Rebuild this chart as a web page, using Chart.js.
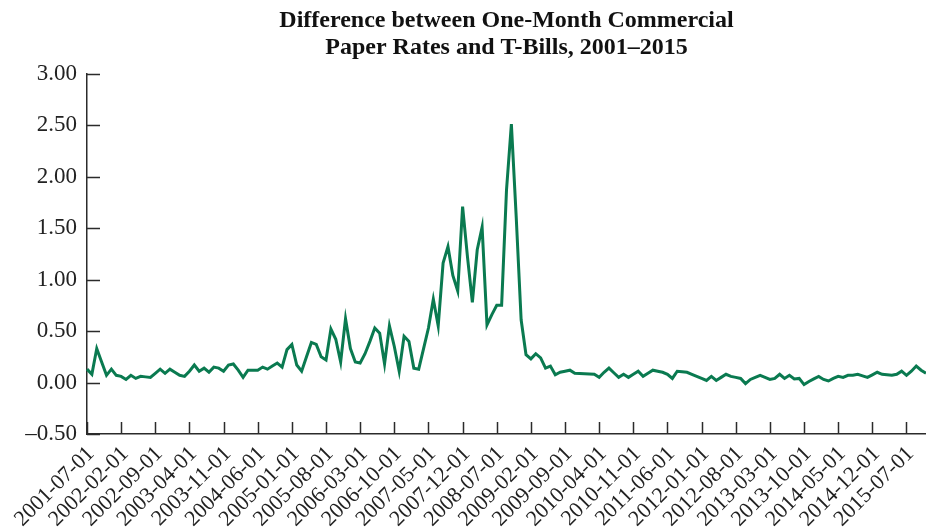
<!DOCTYPE html>
<html>
<head>
<meta charset="utf-8">
<script src="https://cdn.jsdelivr.net/npm/chart.js@4.4.1/dist/chart.umd.min.js"></script>
<style>
  html, body { margin: 0; padding: 0; background: #fff; }
  #wrap { width: 926px; height: 532px; position: relative; }
</style>
</head>
<body>
<div id="wrap"><canvas id="c"></canvas></div>
<script>
/* Spread between one-month commercial paper and T-bill rates, monthly 2001-07 .. 2015-11 */
const START_YEAR = 2001, START_MONTH = 7;
const LABEL_EVERY = 7;
const Y_TICKS = [-0.5, 0, 0.5, 1.0, 1.5, 2.0, 2.5, 3.0];

const SPREAD = [
  0.13, 0.08, 0.33, 0.20, 0.07, 0.13, 0.07, 0.06, 0.03, 0.07, 0.04, 0.06, 0.055, 0.05, 0.09, 0.13, 0.09, 0.13, 0.10, 0.07,
  0.06, 0.11, 0.17, 0.11, 0.14, 0.10, 0.15, 0.14, 0.11, 0.17, 0.18, 0.12, 0.05, 0.12, 0.12, 0.12, 0.15, 0.13, 0.16, 0.19,
  0.15, 0.32, 0.37, 0.17, 0.11, 0.25, 0.39, 0.37, 0.25, 0.22, 0.52, 0.42, 0.20, 0.62, 0.33, 0.20, 0.19, 0.28, 0.40, 0.53,
  0.48, 0.18, 0.55, 0.35, 0.11, 0.45, 0.40, 0.14, 0.13, 0.33, 0.53, 0.81, 0.55, 1.16, 1.32, 1.04, 0.89, 1.71, 1.22, 0.78,
  1.29, 1.51, 0.56, 0.66, 0.75, 0.75, 1.87, 2.51, 1.60, 0.61, 0.27, 0.23, 0.28, 0.24, 0.14, 0.16, 0.075, 0.10, 0.11, 0.12,
  0.09, 0.087, 0.085, 0.082, 0.08, 0.05, 0.10, 0.14, 0.095, 0.05, 0.08, 0.05, 0.08, 0.11, 0.06, 0.09, 0.12, 0.11, 0.10, 0.08,
  0.04, 0.11, 0.105, 0.10, 0.08, 0.06, 0.04, 0.02, 0.06, 0.02, 0.05, 0.08, 0.06, 0.05, 0.04, -0.01, 0.03, 0.05, 0.07, 0.05,
  0.03, 0.04, 0.08, 0.04, 0.07, 0.035, 0.04, -0.02, 0.01, 0.035, 0.06, 0.03, 0.015, 0.04, 0.06, 0.05, 0.07, 0.07, 0.08, 0.065,
  0.05, 0.075, 0.10, 0.08, 0.075, 0.07, 0.08, 0.11, 0.07, 0.11, 0.16, 0.12, 0.09
];

const MONTHS = SPREAD.map((_, i) => {
  const m = START_MONTH - 1 + i;
  const y = START_YEAR + Math.floor(m / 12);
  return y + "-" + String(m % 12 + 1).padStart(2, "0") + "-01";
});

const INK = "#2b2b2b";
const GREEN = "#0a7a50";
const SERIF = "'Liberation Serif', 'Times New Roman', serif";

// ticks sit inside the axes in the original, so draw them by hand from the scales
const innerTicks = {
  id: "innerTicks",
  afterDraw(chart) {
    const { ctx, chartArea: a, scales } = chart;
    ctx.save();
    ctx.strokeStyle = INK;
    ctx.lineWidth = 1.5;
    ctx.beginPath();
    Y_TICKS.forEach(v => {
      const y = Math.round(scales.y.getPixelForValue(v)) + 0.5;
      ctx.moveTo(a.left, y); ctx.lineTo(a.left + 13, y);
    });
    MONTHS.forEach((m, i) => {
      if (i % LABEL_EVERY) return;
      const x = Math.round(scales.x.getPixelForValue(i)) + 0.5;
      ctx.moveTo(x, a.bottom); ctx.lineTo(x, a.bottom - 12);
    });
    ctx.stroke();
    ctx.restore();
  }
};

new Chart(document.getElementById("c"), {
  type: "line",
  data: {
    labels: MONTHS,
    datasets: [{
      data: SPREAD, borderColor: GREEN, borderWidth: 3,
      pointRadius: 0, tension: 0, fill: false, clip: false
    }]
  },
  options: {
    responsive: true, maintainAspectRatio: false, animation: false,
    layout: { padding: 0 },
    plugins: {
      legend: { display: false },
      tooltip: { enabled: false },
      title: {
        display: true, fullSize: false,
        text: ["Difference between One-Month Commercial", "Paper Rates and T-Bills, 2001\u20132015"],
        color: "#111", font: { family: SERIF, size: 24, weight: "bold", lineHeight: 1.12 },
        padding: { top: 7, bottom: 13 }
      }
    },
    scales: {
      x: {
        type: "category",
        offset: false,
        grid: { display: false, drawTicks: false },
        border: { display: true, color: INK, width: 1.5 },
        afterFit: s => { s.height = 98; s.paddingLeft = 0; s.paddingRight = 0; },
        ticks: {
          autoSkip: false, maxRotation: 45, minRotation: 45, padding: 7, labelOffset: 4,
          color: "#222", font: { family: SERIF, size: 22 },
          callback: (v, i) => (i % LABEL_EVERY === 0 ? MONTHS[i] : null)
        }
      },
      y: {
        min: -0.5, max: 3.0,
        afterFit: s => { s.width = 87; },
        afterBuildTicks: s => { s.ticks = Y_TICKS.map(v => ({ value: v })); },
        grid: { display: false, drawTicks: false },
        border: { display: true, color: INK, width: 1.5 },
        ticks: {
          padding: 10, color: "#222", font: { family: SERIF, size: 23 },
          callback: v => (v < 0 ? "\u2013" : "") + Math.abs(v).toFixed(2)
        }
      }
    }
  },
  plugins: [innerTicks]
});
</script>
</body>
</html>
